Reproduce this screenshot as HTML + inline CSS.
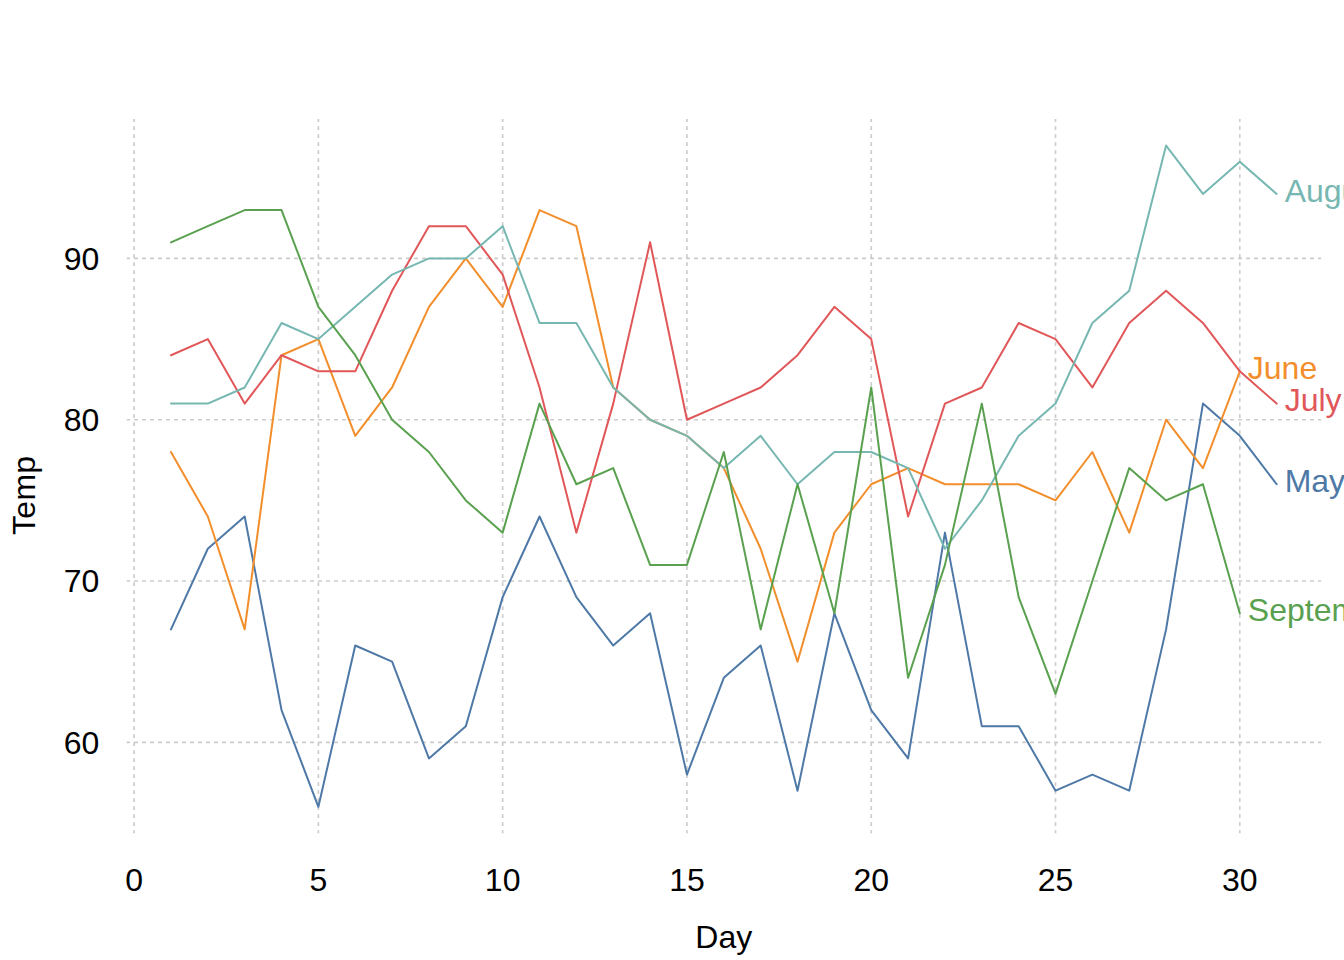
<!DOCTYPE html>
<html lang="en">
<head>
<meta charset="utf-8">
<title>Temp by Day</title>
<style>
html,body{margin:0;padding:0;background:#fff;}
body{width:1344px;height:960px;overflow:hidden;position:relative;}
svg{position:absolute;left:0;top:0;display:block;}
text{font-family:"Liberation Sans",sans-serif;}
.ax{font-size:32px;fill:#000;}
.lab{font-size:32px;}
.grid line{stroke:#cccccc;stroke-width:1.7;stroke-dasharray:3.8 4.2;stroke-linecap:butt;fill:none;}
.grid .h{stroke-dasharray:4 4;stroke-dashoffset:0.6;}
.grid .v{stroke-dashoffset:0.6;}
.series polyline{fill:none;stroke-width:2;stroke-linejoin:round;stroke-linecap:round;}
</style>
</head>
<body>
<svg width="1344" height="960" viewBox="0 0 1344 960">
<rect x="0" y="0" width="1344" height="960" fill="#ffffff"/>

<g class="grid">
<line class="h" x1="126.70" y1="742.30" x2="1321.10" y2="742.30"/>
<line class="h" x1="126.70" y1="581.02" x2="1321.10" y2="581.02"/>
<line class="h" x1="126.70" y1="419.73" x2="1321.10" y2="419.73"/>
<line class="h" x1="126.70" y1="258.45" x2="1321.10" y2="258.45"/>
<line class="v" x1="134.10" y1="118.90" x2="134.10" y2="833.20"/>
<line class="v" x1="318.38" y1="118.90" x2="318.38" y2="833.20"/>
<line class="v" x1="502.67" y1="118.90" x2="502.67" y2="833.20"/>
<line class="v" x1="686.95" y1="118.90" x2="686.95" y2="833.20"/>
<line class="v" x1="871.23" y1="118.90" x2="871.23" y2="833.20"/>
<line class="v" x1="1055.52" y1="118.90" x2="1055.52" y2="833.20"/>
<line class="v" x1="1239.80" y1="118.90" x2="1239.80" y2="833.20"/>
</g>
<g class="series">
<polyline stroke="#4E79A7" points="170.96,629.40 207.81,548.76 244.67,516.50 281.53,710.04 318.38,806.81 355.24,645.53 392.10,661.66 428.95,758.43 465.81,726.17 502.67,597.14 539.52,516.50 576.38,597.14 613.24,645.53 650.09,613.27 686.95,774.56 723.81,677.79 760.66,645.53 797.52,790.68 834.38,613.27 871.23,710.04 908.09,758.43 944.95,532.63 981.80,726.17 1018.66,726.17 1055.52,790.68 1092.37,774.56 1129.23,790.68 1166.09,629.40 1202.94,403.61 1239.80,435.86 1276.66,484.25"/>
<polyline stroke="#F28E2B" points="170.96,451.99 207.81,516.50 244.67,629.40 281.53,355.22 318.38,339.09 355.24,435.86 392.10,387.48 428.95,306.83 465.81,258.45 502.67,306.83 539.52,210.06 576.38,226.19 613.24,387.48 650.09,419.73 686.95,435.86 723.81,468.12 760.66,548.76 797.52,661.66 834.38,532.63 871.23,484.25 908.09,468.12 944.95,484.25 981.80,484.25 1018.66,484.25 1055.52,500.38 1092.37,451.99 1129.23,532.63 1166.09,419.73 1202.94,468.12 1239.80,371.35"/>
<polyline stroke="#E15759" points="170.96,355.22 207.81,339.09 244.67,403.61 281.53,355.22 318.38,371.35 355.24,371.35 392.10,290.71 428.95,226.19 465.81,226.19 502.67,274.58 539.52,387.48 576.38,532.63 613.24,403.61 650.09,242.32 686.95,419.73 723.81,403.61 760.66,387.48 797.52,355.22 834.38,306.83 871.23,339.09 908.09,516.50 944.95,403.61 981.80,387.48 1018.66,322.96 1055.52,339.09 1092.37,387.48 1129.23,322.96 1166.09,290.71 1202.94,322.96 1239.80,371.35 1276.66,403.61"/>
<polyline stroke="#76B7B2" points="170.96,403.61 207.81,403.61 244.67,387.48 281.53,322.96 318.38,339.09 355.24,306.83 392.10,274.58 428.95,258.45 465.81,258.45 502.67,226.19 539.52,322.96 576.38,322.96 613.24,387.48 650.09,419.73 686.95,435.86 723.81,468.12 760.66,435.86 797.52,484.25 834.38,451.99 871.23,451.99 908.09,468.12 944.95,548.76 981.80,500.38 1018.66,435.86 1055.52,403.61 1092.37,322.96 1129.23,290.71 1166.09,145.55 1202.94,193.94 1239.80,161.68 1276.66,193.94"/>
<polyline stroke="#59A14F" points="170.96,242.32 207.81,226.19 244.67,210.06 281.53,210.06 318.38,306.83 355.24,355.22 392.10,419.73 428.95,451.99 465.81,500.38 502.67,532.63 539.52,403.61 576.38,484.25 613.24,468.12 650.09,564.89 686.95,564.89 723.81,451.99 760.66,629.40 797.52,484.25 834.38,613.27 871.23,387.48 908.09,677.79 944.95,564.89 981.80,403.61 1018.66,597.14 1055.52,693.91 1092.37,581.02 1129.23,468.12 1166.09,500.38 1202.94,484.25 1239.80,613.27"/>
</g>
<g class="lab">
<text x="1284.66" y="491.85" fill="#4E79A7">May</text>
<text x="1247.80" y="378.95" fill="#F28E2B">June</text>
<text x="1284.66" y="411.21" fill="#E15759">July</text>
<text x="1284.66" y="201.54" fill="#76B7B2">August</text>
<text x="1247.80" y="620.87" fill="#59A14F">September</text>
</g>
<g class="ax">
<text x="99.4" y="753.60" text-anchor="end">60</text>
<text x="99.4" y="592.32" text-anchor="end">70</text>
<text x="99.4" y="431.03" text-anchor="end">80</text>
<text x="99.4" y="269.75" text-anchor="end">90</text>
<text x="134.10" y="890.8" text-anchor="middle">0</text>
<text x="318.38" y="890.8" text-anchor="middle">5</text>
<text x="502.67" y="890.8" text-anchor="middle">10</text>
<text x="686.95" y="890.8" text-anchor="middle">15</text>
<text x="871.23" y="890.8" text-anchor="middle">20</text>
<text x="1055.52" y="890.8" text-anchor="middle">25</text>
<text x="1239.80" y="890.8" text-anchor="middle">30</text>
<text x="723.8" y="948.1" text-anchor="middle">Day</text>
<text transform="translate(35.2,535.0) rotate(-90)" letter-spacing="0.3">Temp</text>
</g>
</svg>
</body>
</html>
